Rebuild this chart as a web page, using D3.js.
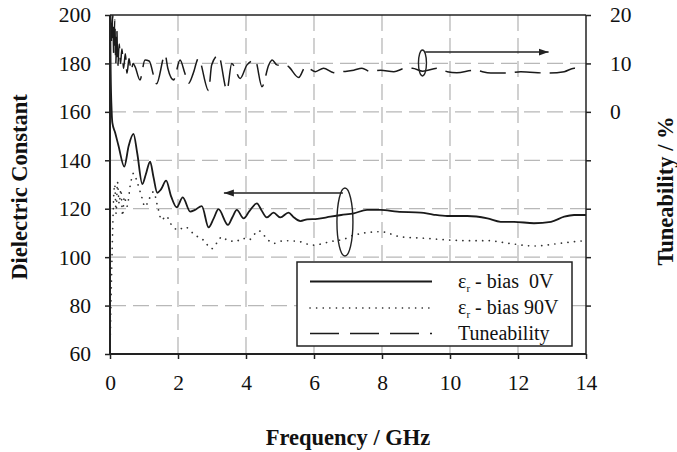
<!DOCTYPE html>
<html><head><meta charset="utf-8">
<script src="https://cdn.jsdelivr.net/npm/d3@7"></script>
<style>
html,body{margin:0;padding:0;background:#fff;}
svg{display:block;}
</style></head><body>
<svg id="c" width="677" height="452"></svg>
<script>
// ---------- data ----------
const xTicks = [0,2,4,6,8,10,12,14];
const yLeftTicks = [60,80,100,120,140,160,180,200];
const yRightTicks = [-40,-30,-20,-10,0,10,20];
const yRightLabels = [0,10,20];

const freq0V = [0.00,0.01,0.02,0.05,0.07,0.15,0.25,0.42,0.55,0.69,0.80,0.95,1.05,1.18,1.28,1.39,1.50,1.65,1.80,1.96,2.14,2.36,2.50,2.70,2.90,3.05,3.19,3.47,3.60,3.73,3.93,4.10,4.32,4.45,4.61,4.81,5.01,5.25,5.40,5.60,5.80,6.10,6.48,6.80,7.17,7.56,7.96,8.45,9.14,9.50,9.92,10.51,11.10,11.49,11.88,12.47,12.97,13.36,13.65,14.00];
const eps0V  = [200,192,177,160,155.4,151.5,146,137.4,146,150.9,143,130.2,134,139.4,133,126.6,128,131.6,125,120.6,124.7,118.8,119.5,121.1,112.3,116,119.8,113.3,116.5,119.5,116.0,119,122.2,119.5,116.4,118.4,116.4,118.4,116.5,114.9,115.6,115.8,116.7,117.4,118.1,119.5,119.5,118.8,118.4,117.6,117.0,117.0,116.0,114.6,114.6,114.0,114.6,116.7,117.4,117.4];

const freq90V = [0.00,0.02,0.05,0.08,0.10,0.14,0.18,0.22,0.27,0.32,0.37,0.42,0.50,0.60,0.69,0.80,0.93,1.03,1.15,1.28,1.40,1.52,1.65,1.80,2.01,2.20,2.50,2.75,2.99,3.15,3.29,3.45,3.70,3.90,4.08,4.37,4.67,4.82,5.10,5.55,5.80,5.99,6.48,6.90,7.17,7.96,8.55,9.23,9.92,10.51,11.10,11.88,12.47,13.07,13.65,14.00];
const eps90V  = [60,75,95,112,122,130,118,131,122,128,117,125,121,130,134.6,131,125,120.8,124,127,121,115.3,117,113.5,111.2,112.5,109.1,107,103.5,106,108.4,107,106.5,107.8,107.1,110.9,106.8,105.7,106.8,106.5,105.4,105.0,106.4,107.5,109.1,110.5,108.4,107.8,107.1,106.8,106.8,105.4,104.6,105.4,106.4,106.8];

const freqTun = [0.02,0.05,0.08,0.11,0.14,0.17,0.20,0.23,0.27,0.31,0.35,0.40,0.45,0.50,0.56,0.62,0.68,0.74,0.88,1.03,1.15,1.37,1.62,1.70,1.87,2.06,2.20,2.31,2.45,2.60,2.90,2.99,3.19,3.44,3.58,3.83,4.03,4.27,4.47,4.67,4.77,4.91,5.21,5.55,5.75,6.04,6.28,6.58,6.85,7.17,7.41,7.66,7.96,8.35,8.69,8.89,9.20,9.62,9.92,10.20,10.71,11.20,11.69,12.08,12.87,13.36,13.65,13.80];
const tun     = [20,14,20,12,19,10,17,9.5,14,10,13,9,12,8,11,8.5,10,9.3,6.6,10.7,10.5,5.8,11.8,9,6.6,10.7,8,5.9,8,11.0,4.4,9.7,11.7,4.5,10.0,6.9,9.7,10.7,5.2,9.7,10.7,9.7,9.5,7.1,9.3,8.3,9.0,8.1,8.3,8.6,9.0,8.3,8.6,8.3,9.0,9.0,8.4,9.0,8.3,8.1,8.6,8.0,8.0,8.3,8.0,8.3,9.0,8.6];

const legendLabels = ["bias  0V","bias 90V","Tuneability"];

// ---------- layout ----------
const FONT = "'Liberation Serif', 'Times New Roman', Times, 'DejaVu Serif', serif";
const svg = d3.select("#c").attr("font-family", FONT);
const L = 110, R = 586, T = 15, B = 354;
const x = d3.scaleLinear().domain([0,14]).range([L,R]);
const y = d3.scaleLinear().domain([60,200]).range([B,T]);
const yR = d3.scaleLinear().domain([-50,20]).range([B,T]);

// grid
const grid = svg.append("g").attr("stroke","#b8b8b8").attr("stroke-width",1.3).attr("stroke-dasharray","16,7");
grid.selectAll("line.v").data(xTicks.filter(d=>d>0&&d<14)).enter().append("line")
  .attr("x1",d=>x(d)).attr("x2",d=>x(d)).attr("y1",T).attr("y2",B);
grid.selectAll("line.h").data(yLeftTicks.filter(d=>d>60&&d<200)).enter().append("line")
  .attr("x1",L).attr("x2",R).attr("y1",d=>y(d)).attr("y2",d=>y(d));

// clip
svg.append("clipPath").attr("id","pc").append("rect").attr("x",L).attr("y",T).attr("width",R-L).attr("height",B-T);

const plot = svg.append("g").attr("clip-path","url(#pc)");
const line0 = d3.line().x((d,i)=>x(freq0V[i])).y(d=>y(d)).curve(d3.curveMonotoneX);
plot.append("path").attr("d",line0(eps0V)).attr("fill","none").attr("stroke","#1a1a1a").attr("stroke-width",1.8);

const line90 = d3.line().x((d,i)=>x(freq90V[i])).y(d=>y(d)).curve(d3.curveMonotoneX);
plot.append("path").attr("d",line90(eps90V)).attr("fill","none").attr("stroke","#333")
  .attr("stroke-width",1.7).attr("stroke-dasharray","0.1,6.5").attr("stroke-linecap","round");

const lineT = d3.line().x((d,i)=>x(freqTun[i])).y(d=>yR(d)).curve(d3.curveMonotoneX);
plot.append("path").attr("d",lineT(tun)).attr("fill","none").attr("stroke","#1a1a1a")
  .attr("stroke-width",1.5).attr("stroke-dasharray","26,9");

// axes
const fs = 21.5;
const axL = svg.append("g").attr("transform",`translate(${L},0)`)
  .call(d3.axisLeft(y).tickValues(yLeftTicks).tickSize(5).tickPadding(14).tickFormat(d3.format("d")));
const axB = svg.append("g").attr("transform",`translate(0,${B})`)
  .call(d3.axisBottom(x).tickValues(xTicks).tickSize(5).tickPadding(16).tickFormat(d3.format("d")));
const axR = svg.append("g").attr("transform",`translate(${R},0)`)
  .call(d3.axisRight(yR).tickValues(yRightTicks).tickSize(5).tickPadding(19)
    .tickFormat(d=>yRightLabels.includes(d)?String(d):""));
[axL,axB,axR].forEach(a=>{
  a.attr("font-family",FONT).attr("font-size",fs);
  a.selectAll("text").attr("font-family",FONT).attr("font-size",fs).attr("fill","#111");
  a.selectAll("line").attr("stroke","#222").attr("stroke-width",1.5);
  a.select(".domain").attr("stroke","#222");
});
axL.select(".domain").attr("stroke-width",2).attr("d",`M0,${T}V${B}`);
axB.select(".domain").attr("stroke-width",2).attr("d",`M${L},0H${R}`);
axR.select(".domain").attr("stroke-width",1.5).attr("d",`M0,${T}V${B}`);
svg.append("line").attr("x1",L).attr("x2",R).attr("y1",T).attr("y2",T).attr("stroke","#222").attr("stroke-width",1.5);

// annotations
const defs = svg.append("defs");
defs.append("marker").attr("id","ah").attr("viewBox","0 -4 10 8").attr("refX",10).attr("refY",0)
  .attr("markerWidth",10).attr("markerHeight",8).attr("markerUnits","userSpaceOnUse").attr("orient","auto")
  .append("path").attr("d","M0,-3.5L10,0L0,3.5Z").attr("fill","#222");
const ann = svg.append("g").attr("stroke","#222").attr("fill","none").attr("stroke-width",1.4);
ann.append("ellipse").attr("cx",x(6.91)).attr("cy",y(114.5)).attr("rx",8).attr("ry",34);
ann.append("line").attr("x1",x(6.85)).attr("y1",y(126.5)).attr("x2",x(3.35)).attr("y2",y(126.5)).attr("marker-end","url(#ah)");
ann.append("ellipse").attr("cx",x(9.19)).attr("cy",yR(10.1)).attr("rx",4).attr("ry",13);
ann.append("line").attr("x1",x(9.27)).attr("y1",yR(12.35)).attr("x2",x(12.9)).attr("y2",yR(12.35)).attr("marker-end","url(#ah)");

// legend
const lg = svg.append("g");
lg.append("rect").attr("x",297).attr("y",262).attr("width",275).attr("height",84)
  .attr("fill","#fff").attr("stroke","#222").attr("stroke-width",1.5);
const rows = [281.5,308,333.5];
const styles = [
  {w:1.8,da:null,cap:"butt"},
  {w:1.6,da:"0.1,6.5",cap:"round"},
  {w:1.5,da:"29,11",cap:"butt"}
];
rows.forEach((ry,i)=>{
  const l = lg.append("line").attr("x1",310).attr("x2",432).attr("y1",ry).attr("y2",ry)
    .attr("stroke","#1a1a1a").attr("stroke-width",styles[i].w).attr("stroke-linecap",styles[i].cap);
  if(styles[i].da) l.attr("stroke-dasharray",styles[i].da);
});
const txtY = [288,314,340];
legendLabels.forEach((lab,i)=>{
  const t = lg.append("text").attr("x",458).attr("y",txtY[i]).attr("font-family",FONT)
    .attr("font-size",20).attr("fill","#111").style("white-space","pre");
  if(i<2){
    t.append("tspan").text("ε");
    t.append("tspan").attr("dy",3.5).attr("font-size",11).text("r");
    t.append("tspan").attr("dy",-3.5).text(" - " + lab);
  } else {
    t.text(lab);
  }
});

// axis titles
const title = (tr, s) => svg.append("text").attr("transform",tr).attr("text-anchor","middle")
  .attr("font-family",FONT).attr("font-size",22.5).attr("font-weight","bold").attr("fill","#111").text(s);
title("translate(27,187) rotate(-90)","Dielectric Constant");
title("translate(673,191) rotate(-90)","Tuneability / %");
title("translate(348,445)","Frequency / GHz");
</script>
</body></html>
